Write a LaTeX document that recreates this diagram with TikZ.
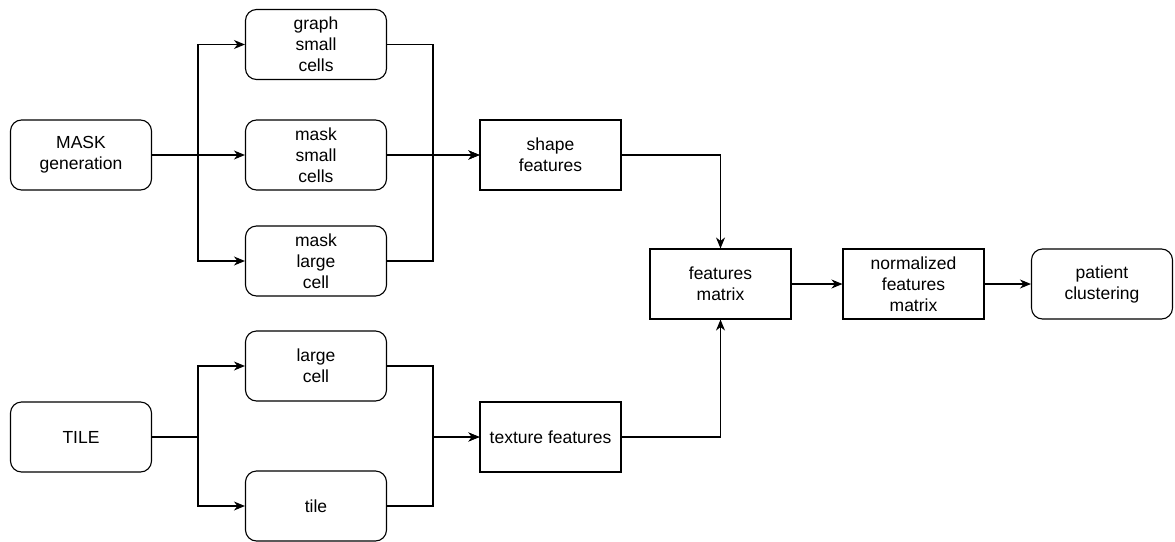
\documentclass[tikz,border=0pt]{standalone}
\usepackage{fontspec}
\setmainfont{Liberation Sans}
\usetikzlibrary{arrows.meta}
\begin{document}
\begin{tikzpicture}[x=1pt,y=-1pt,
  every node/.style={font=\fontsize{17.5}{21}\selectfont, align=center, inner sep=0pt},
  box/.style={draw, line width=1.1pt, minimum width=141pt, minimum height=70pt},
  rbox/.style={box, rounded corners=11pt},
  link/.style={line width=1.1pt},
  arr/.style={link, -{Stealth[length=11pt,width=9pt,inset=3.5pt]}}]
\useasboundingbox (0,0) rectangle (1175,541);
% inputs
\node[rbox] (mg)  at (81,155)  {MASK\\generation};
\node[rbox] (ti)  at (81,437)  {TILE};
% intermediate products
\node[rbox] (gsc) at (316,44.5) {graph\\small\\cells};
\node[rbox] (msc) at (316,155) {mask\\small\\cells};
\node[rbox] (mlc) at (316,261) {mask\\large\\cell};
\node[rbox] (lc)  at (316,366) {large\\cell};
\node[rbox] (tl)  at (316,506) {tile};
% features
\node[box]  (sf)  at (550.5,155) {shape\\features};
\node[box]  (tf)  at (550.5,437) {texture features};
\node[box]  (fm)  at (720.5,284) {features\\matrix};
\node[box]  (nfm) at (913.5,284) {normalized\\features\\matrix};
\node[rbox] (pc)  at (1102,284) {patient\\clustering};
% branch and merge columns
\coordinate (bx) at (198,0);
\coordinate (mx) at (433,0);
% fan-out from the inputs
\draw[arr] (mg.east) -- (mg.east -| bx) |- (gsc.west);
\draw[arr] (mg.east) -- (msc.west);
\draw[arr] (mg.east) -- (mg.east -| bx) |- (mlc.west);
\draw[arr] (ti.east) -- (ti.east -| bx) |- (lc.west);
\draw[arr] (ti.east) -- (ti.east -| bx) |- (tl.west);
% fan-in to the feature boxes
\draw[arr] (gsc.east) -- (gsc.east -| mx) |- (sf.west);
\draw[arr] (msc.east) -- (sf.west);
\draw[arr] (mlc.east) -- (mlc.east -| mx) |- (sf.west);
\draw[arr] (lc.east) -- (lc.east -| mx) |- (tf.west);
\draw[arr] (tl.east) -- (tl.east -| mx) |- (tf.west);
% feature pipeline
\draw[arr] (sf.east) -| (fm.north);
\draw[arr] (tf.east) -| (fm.south);
\draw[arr] (fm) -- (nfm);
\draw[arr] (nfm) -- (pc);
\end{tikzpicture}
\end{document}
